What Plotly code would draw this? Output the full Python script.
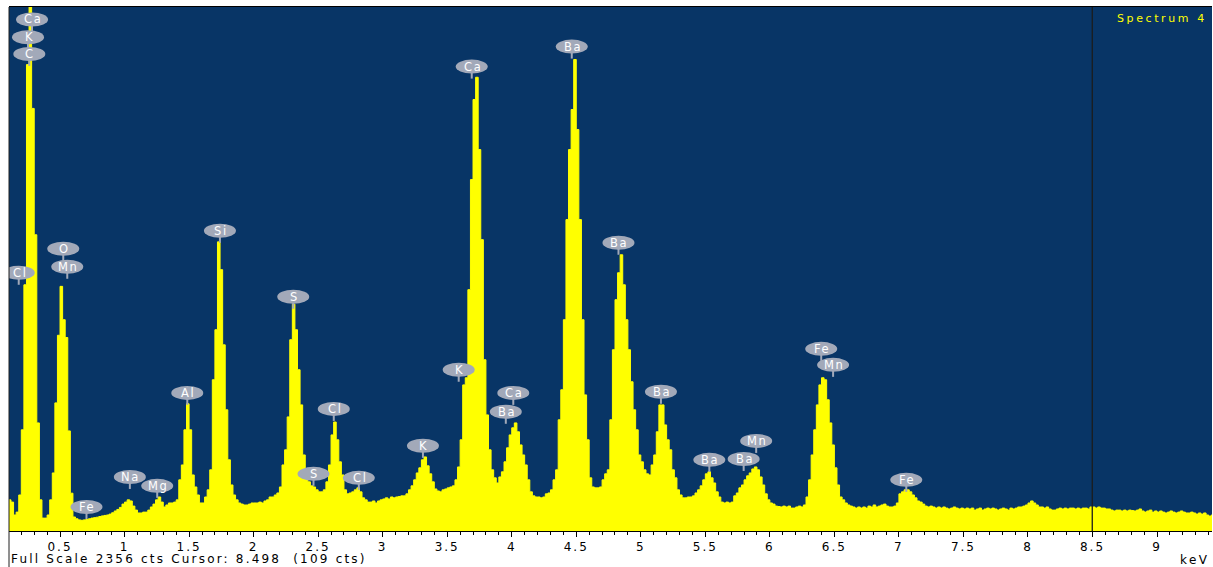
import numpy as np
import plotly.graph_objects as go

# ---------------- data ----------------
E_START_KEV = 0.10      # energy of first channel edge
CHANNEL_KEV = 0.02      # channel width
FULL_SCALE = 2356       # cts
CURSOR_KEV = 8.498
CURSOR_CTS = 109

# counts per 20 eV channel
counts_low = [  # 0.10 - 1.94 keV
    140, 130, 72, 85, 162, 455, 1107, 2097, 2400, 1900,
    1332, 486, 140, 58, 58, 72, 140, 261, 576, 880,
    1100, 950, 870, 450, 170, 63, 55, 50, 48, 50,
    52, 55, 58, 60, 62, 65, 68, 70, 72, 76,
    82, 90, 97, 106, 121, 130, 140, 135, 112, 94,
    81, 81, 85, 85, 94, 108, 121, 140, 153, 130,
    108, 117, 126, 126, 130, 140, 230, 297, 455, 572,
    455, 252, 198, 162, 126, 126, 153, 185, 275, 680,
    905, 1300, 1175, 837, 545, 320, 207, 162, 140, 126,
    121, 117,
]
counts_mid = [  # 1.94 - 4.14 keV
    117, 121, 126, 126, 126, 130, 126, 135, 140, 153,
    153, 162, 171, 198, 297, 365, 513, 860, 1020, 905,
    725, 567, 342, 239, 221, 203, 198, 185, 176, 176,
    185, 221, 297, 432, 490, 410, 311, 252, 185, 167,
    171, 176, 185, 194, 176, 149, 140, 130, 130, 135,
    126, 135, 140, 144, 149, 144, 153, 149, 153, 155,
    158, 158, 167, 185, 203, 230, 261, 284, 320, 333,
    293, 257, 221, 189, 180, 176, 185, 189, 194, 198,
    203, 230, 288, 410, 657, 689, 1085, 1580, 1940, 2040,
    1715, 1310, 770, 522, 365, 275, 239, 216, 243, 266,
    311, 374, 432, 464, 486, 446, 387, 342, 297, 230,
]
counts_high = [  # 4.14 - 6.86 keV
    176, 158, 153, 153, 149, 153, 167, 171, 185, 230,
    275, 500, 635, 950, 1400, 1715, 1895, 2120, 1805, 1400,
    950, 612, 410, 239, 198, 194, 194, 198, 230, 257,
    275, 500, 815, 1040, 1161, 1242, 1107, 950, 815, 671,
    545, 455, 342, 311, 275, 257, 252, 297, 342, 446,
    567, 567, 477, 410, 365, 275, 239, 185, 162, 149,
    149, 153, 153, 158, 171, 185, 203, 230, 257, 266,
    239, 216, 176, 153, 130, 126, 130, 126, 130, 158,
    171, 194, 207, 230, 248, 261, 279, 288, 275, 243,
    207, 167, 140, 126, 121, 112, 110, 108, 112, 108,
    112, 103, 103, 108, 112, 108, 117, 153, 230, 342,
    455, 567, 657, 689, 680, 590, 486, 387, 284, 207,
    153, 140, 126, 117, 112, 108, 103, 108, 103, 108,
    103, 112, 108, 117, 108, 112,
]
counts_tail = [  # 6.86 - 9.44 keV
    117, 121, 112, 108, 108, 112, 126, 167, 176, 185,
    185, 176, 162, 149, 135, 130, 121, 112, 108, 112,
    108, 103, 108, 103, 108, 103, 99, 103, 108, 103,
    99, 103, 99, 103, 99, 103, 94, 99, 103, 94,
    99, 103, 99, 103, 99, 94, 99, 103, 99, 94,
    103, 99, 103, 108, 108, 112, 117, 126, 135, 126,
    117, 108, 108, 103, 108, 99, 94, 94, 99, 103,
    99, 103, 99, 103, 103, 99, 103, 99, 103, 103,
    99, 108, 108, 103, 108, 103, 103, 99, 99, 94,
    90, 94, 94, 90, 94, 90, 94, 92, 90, 94,
    99, 90, 85, 90, 94, 85, 90, 85, 90, 85,
    81, 85, 90, 85, 81, 85, 90, 85, 81, 81,
    85, 81, 76, 81, 76, 81, 72, 67, 72,
]

# element line markers: name, energy (keV), height of the badge (cts)
label_names = ["Ca", "K", "C", "Cl", "O", "Mn", "Fe", "Na", "Mg", "Al",
               "Si", "S", "S", "Cl", "Cl", "K", "K", "Ca", "Ca", "Ba",
               "Ba", "Ba", "Ba", "Ba", "Ba", "Mn", "Fe", "Mn", "Fe"]
label_kev = [0.283, 0.252, 0.262, 0.180, 0.525, 0.556, 0.705, 1.041, 1.253, 1.486,
             1.739, 2.307, 2.464, 2.621, 2.815, 3.312, 3.589, 3.690, 4.012, 3.954,
             4.465, 4.827, 5.156, 5.531, 5.797, 5.894, 6.398, 6.490, 7.057]
label_cts = [2300, 2220, 2145, 1161, 1269, 1188, 108, 243, 203, 621,
             1350, 1053, 257, 549, 239, 383, 725, 2088, 621, 536,
             2178, 1296, 626, 320, 324, 405, 819, 747, 230]

tick_vals = [0.5, 1, 1.5, 2, 2.5, 3, 3.5, 4, 4.5, 5, 5.5, 6, 6.5, 7, 7.5, 8, 8.5, 9]
tick_text = ["0.5", "1", "1.5", "2", "2.5", "3", "3.5", "4", "4.5", "5",
             "5.5", "6", "6.5", "7", "7.5", "8", "8.5", "9"]

counts = counts_low + counts_mid + counts_high + counts_tail
edges = E_START_KEV + CHANNEL_KEV * np.arange(len(counts) + 1)
y_step = counts + [counts[-1]]

# ---------------- style ----------------
BG = "#083566"
YEL = "#ffff00"
BADGE = "#a2a9b9"
FONT = "DejaVu Sans, Arial, sans-serif"


def spaced(txt, px):
    return f'<span style="letter-spacing:{px}px">{txt}</span>'


fig = go.Figure()
fig.add_trace(go.Scatter(
    x=edges, y=y_step, mode="lines",
    line=dict(shape="hv", color=YEL, width=1),
    fill="tozeroy", fillcolor=YEL, hoverinfo="skip", showlegend=False,
))

shapes = []
annotations = []
for name, kev, cts in zip(label_names, label_kev, label_cts):
    shapes.append(dict(type="line", xref="x", yref="y",
                       xsizemode="pixel", ysizemode="pixel",
                       xanchor=kev, yanchor=cts, x0=0, x1=0, y0=-5, y1=-12,
                       line=dict(color=BADGE, width=2), layer="above"))
    shapes.append(dict(type="circle", xref="x", yref="y",
                       xsizemode="pixel", ysizemode="pixel",
                       xanchor=kev, yanchor=cts, x0=-16, x1=16, y0=-7, y1=7,
                       fillcolor=BADGE, line=dict(width=0), layer="above"))
    annotations.append(dict(x=kev, y=cts, xref="x", yref="y", showarrow=False,
                            text=spaced(name, 1.6), xshift=1,
                            font=dict(family=FONT, size=11.5, color="white")))

# cursor line
shapes.append(dict(type="line", xref="x", yref="paper", x0=CURSOR_KEV, x1=CURSOR_KEV,
                   y0=0, y1=1, line=dict(color="#1c1c1c", width=1.3), layer="above"))
# left frame line continuing into the status bar
shapes.append(dict(type="line", xref="paper", yref="paper", x0=0, x1=0,
                   y0=-0.07, y1=1, line=dict(color="#202020", width=1), layer="above"))

annotations.append(dict(x=1, y=1, xref="paper", yref="paper", xanchor="right", yanchor="top",
                        xshift=-3, yshift=-3, showarrow=False,
                        text=spaced("Spectrum 4", 2.6),
                        font=dict(family=FONT, size=11, color=YEL)))
annotations.append(dict(x=0, y=-0.0534, xref="paper", yref="paper", xanchor="left",
                        yanchor="middle", showarrow=False,
                        text=spaced(f"Full Scale {FULL_SCALE} cts Cursor: {CURSOR_KEV:.3f}  ({CURSOR_CTS} cts)", 2.2),
                        font=dict(family=FONT, size=12, color="black")))
annotations.append(dict(x=1, y=-0.055, xref="paper", yref="paper", xanchor="right",
                        yanchor="middle", showarrow=False, xshift=-1,
                        text=spaced("keV", 2.4),
                        font=dict(family=FONT, size=12, color="black")))

fig.update_layout(
    width=1213, height=567,
    margin=dict(l=9, r=1, t=7, b=36),
    paper_bgcolor="white", plot_bgcolor=BG,
    showlegend=False,
    shapes=shapes, annotations=annotations,
    xaxis=dict(
        range=[0.1046, 9.4258],
        tickmode="array", tickvals=tick_vals,
        ticktext=[spaced(t, 2) for t in tick_text],
        ticks="outside", ticklen=5, tickcolor="black", tickwidth=1,
        tickfont=dict(family=FONT, size=12, color="black"),
        minor=dict(tickmode="linear", tick0=0, dtick=0.1, ticks="outside",
                   ticklen=3, tickcolor="black", tickwidth=1),
        showline=True, linecolor="black", linewidth=1, mirror=True,
        showgrid=False, zeroline=False, fixedrange=True,
    ),
    yaxis=dict(
        range=[0, FULL_SCALE], showticklabels=False, ticks="",
        showline=False, showgrid=False, zeroline=False, fixedrange=True,
    ),
)

fig.write_html("out.html", config={"displayModeBar": False},
               post_script="document.body.style.margin='0';document.body.style.overflow='hidden';")
